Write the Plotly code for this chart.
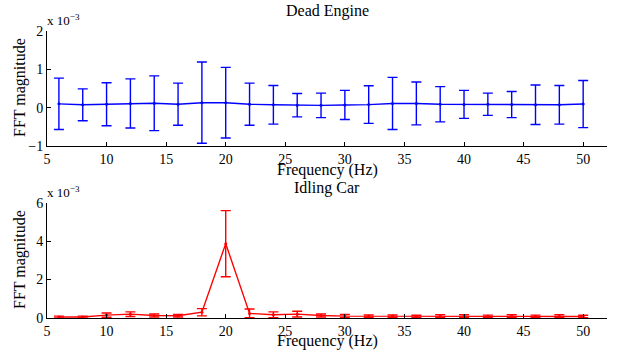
import plotly.graph_objects as go

# Frequency bins (Hz)
freq = [6, 8, 10, 12, 14, 16, 18, 20, 22, 24, 26, 28, 30, 32, 34, 36, 38, 40, 42, 44, 46, 48, 50]

# FFT magnitude, in units of 1e-3
dead_mean = [0.10, 0.075, 0.09, 0.11, 0.115, 0.09, 0.13, 0.13, 0.09, 0.075, 0.065, 0.06, 0.07,
             0.08, 0.11, 0.11, 0.09, 0.085, 0.09, 0.08, 0.075, 0.075, 0.095]
dead_err = [0.67, 0.415, 0.56, 0.64, 0.715, 0.55, 1.06, 0.92, 0.55, 0.505, 0.305, 0.32, 0.38,
            0.49, 0.68, 0.56, 0.46, 0.365, 0.29, 0.34, 0.515, 0.505, 0.615]

idle_mean = [0.05, 0.05, 0.15, 0.20, 0.13, 0.12, 0.30, 3.87, 0.24, 0.17, 0.20, 0.13, 0.10,
             0.10, 0.10, 0.08, 0.10, 0.10, 0.09, 0.10, 0.09, 0.10, 0.08]
idle_err = [0.05, 0.05, 0.11, 0.12, 0.08, 0.07, 0.19, 1.72, 0.23, 0.15, 0.15, 0.08, 0.08,
            0.06, 0.06, 0.06, 0.07, 0.07, 0.06, 0.07, 0.06, 0.07, 0.06]

x_ticks = [5, 10, 15, 20, 25, 30, 35, 40, 45, 50]
top_yticks = [-1, 0, 1, 2]
bot_yticks = [0, 2, 4, 6]

W, H = 619, 350
FONT = "Liberation Serif"

def px_x(p):
    return p / W

def px_y(p):
    return 1 - p / H

fig = go.Figure()

fig.add_trace(go.Scatter(
    x=freq, y=dead_mean, mode="lines+markers",
    line=dict(color="#0000ff", width=1.4),
    marker=dict(color="#0000ff", size=3),
    error_y=dict(type="data", array=dead_err, symmetric=True, color="#0000ff",
                 thickness=1.4, width=5),
    xaxis="x", yaxis="y", showlegend=False,
))
fig.add_trace(go.Scatter(
    x=freq, y=idle_mean, mode="lines+markers",
    line=dict(color="#ff0000", width=1.4),
    marker=dict(color="#ff0000", size=3),
    error_y=dict(type="data", array=idle_err, symmetric=True, color="#ff0000",
                 thickness=1.4, width=5),
    xaxis="x2", yaxis="y2", showlegend=False,
))

x_dom = [px_x(47), px_x(607)]
axis_common = dict(showline=True, linecolor="black", linewidth=1, ticks="inside",
                   ticklen=4, tickcolor="black", showgrid=False, zeroline=False,
                   mirror=False, automargin=False,
                   tickfont=dict(family=FONT, size=14, color="black"))

fig.update_layout(
    template="none",
    width=W, height=H,
    margin=dict(l=0, r=0, t=0, b=0, pad=0),
    paper_bgcolor="white", plot_bgcolor="white",
    font=dict(family=FONT, size=14, color="black"),
    xaxis=dict(domain=x_dom, range=[5, 52], tickvals=x_ticks, anchor="y", **axis_common),
    yaxis=dict(domain=[px_y(146), px_y(31)], range=[-1, 2], tickvals=top_yticks,
               anchor="x", **axis_common),
    xaxis2=dict(domain=x_dom, range=[5, 52], tickvals=x_ticks, anchor="y2", **axis_common),
    yaxis2=dict(domain=[px_y(318), px_y(202.7)], range=[0, 6], tickvals=bot_yticks,
                anchor="x2", **axis_common),
)

def text(x, y, s, size=16, angle=0, xanchor="center", yanchor="middle"):
    fig.add_annotation(x=px_x(x), y=px_y(y), xref="paper", yref="paper", text=s,
                       showarrow=False, textangle=angle, xanchor=xanchor, yanchor=yanchor,
                       font=dict(family=FONT, size=size, color="black"))

# Titles and axis labels
text(327, 11, "Dead Engine")
text(327, 170, "Frequency (Hz)")
text(20, 88, "FFT magnitude", angle=-90)
text(327, 188, "Idling Car")
text(327, 341, "Frequency (Hz)")
text(20, 260, "FFT magnitude", angle=-90)

# Axis scale factors
text(45, 30, "x 10<sup>−3</sup>", size=13, xanchor="left", yanchor="bottom")
text(45, 202, "x 10<sup>−3</sup>", size=13, xanchor="left", yanchor="bottom")

fig.write_html("out.html")
